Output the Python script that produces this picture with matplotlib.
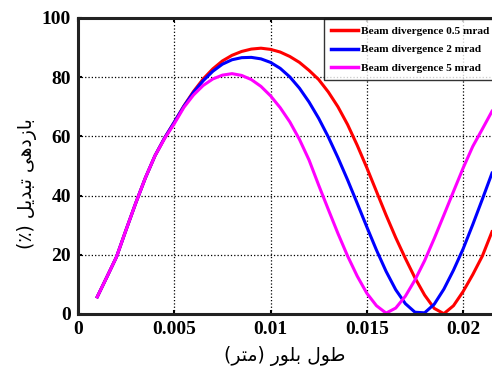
import matplotlib
matplotlib.use("Agg")
import matplotlib.pyplot as plt

# crystal length (m), sampled every 0.0005 from 0.001 to 0.0215
length = [0.0010, 0.0015, 0.0020, 0.0025, 0.0030, 0.0035, 0.0040, 0.0045,
          0.0050, 0.0055, 0.0060, 0.0065, 0.0070, 0.0075, 0.0080, 0.0085,
          0.0090, 0.0095, 0.0100, 0.0105, 0.0110, 0.0115, 0.0120, 0.0125,
          0.0130, 0.0135, 0.0140, 0.0145, 0.0150, 0.0155, 0.0160, 0.0165,
          0.0170, 0.0175, 0.0180, 0.0185, 0.0190, 0.0195, 0.0200, 0.0205,
          0.0210, 0.0215]

# conversion efficiency (%)
eff_05 = [5.8, 12.5, 19.3, 28.5, 37.5, 46.0, 53.5, 59.5,
          64.8, 70.3, 75.2, 79.4, 82.8, 85.5, 87.4, 88.7,
          89.5, 89.8, 89.4, 88.5, 87.0, 85.0, 82.3, 79.2,
          75.0, 70.0, 64.0, 57.0, 49.4, 41.4, 33.4, 25.8,
          18.8, 12.2, 6.4, 1.9, 0.1, 2.8, 7.6, 13.3,
          19.6, 27.8]
eff_2 = [5.8, 12.5, 19.3, 28.5, 37.5, 46.0, 53.5, 59.5,
         64.8, 70.2, 74.9, 78.8, 82.0, 84.4, 85.9, 86.6,
         86.7, 86.2, 85.0, 83.0, 80.1, 76.3, 71.6, 66.1,
         59.8, 52.8, 45.3, 37.4, 29.4, 21.6, 14.4, 8.2,
         3.5, 0.6, 0.4, 3.3, 8.4, 14.8, 22.0, 30.2,
         38.8, 47.6]
eff_5 = [5.8, 12.5, 19.3, 28.5, 37.5, 46.0, 53.5, 59.3,
         64.3, 69.8, 74.0, 77.2, 79.4, 80.7, 81.2, 80.6,
         79.2, 76.9, 73.7, 69.7, 64.9, 59.0, 52.0, 43.5,
         35.3, 27.2, 19.6, 12.8, 7.0, 2.8, 0.3, 2.0,
         6.0, 11.5, 18.0, 25.5, 33.4, 41.4, 49.3, 56.6,
         62.5, 68.5]

labels = ["Beam divergence 0.5 mrad", "Beam divergence 2 mrad", "Beam divergence 5 mrad"]
colors = ["#ff0000", "#0000ff", "#ff00ff"]

xticks = [0, 0.005, 0.01, 0.015, 0.02]
xticklabels = ["0", "0.005", "0.01", "0.015", "0.02"]
yticks = [0, 20, 40, 60, 80, 100]

# Persian labels, written in visual order with presentation forms
xlabel = "(\uFEAE\uFE98\uFEE3) \uFEAD\uFEEE\uFEE0\uFE91 \uFEDD\uFEEE\uFEC3"
ylabel = "(\u066A) \uFEDE\uFEF3\uFEAA\uFE92\uFE97 \uFEF0\uFEEB\uFEA9\uFEAF\uFE8E\uFE91"

fig = plt.figure(figsize=(4.92, 3.71), dpi=100)
ax = fig.add_axes([78 / 492, 57 / 371, 414 / 492, 296 / 371])

for ys, lab, col in zip([eff_05, eff_2, eff_5], labels, colors):
    ax.plot(length, ys, color=col, linewidth=2.2, label=lab)

ax.set_xlim(0, 0.0215)
ax.set_ylim(0, 100)
ax.set_xticks(xticks)
ax.set_xticklabels(xticklabels)
ax.set_yticks(yticks)
ax.grid(True, linestyle=":", color="black", linewidth=0.9)

for side in ["left", "bottom", "top"]:
    ax.spines[side].set_linewidth(2.2)
    ax.spines[side].set_color("#222222")
ax.spines["right"].set_visible(False)

ax.tick_params(direction="in", length=3, width=1.5, top=True, pad=5)
for t in ax.get_xticklabels() + ax.get_yticklabels():
    t.set_fontfamily("Liberation Serif")
    t.set_fontweight("bold")
    t.set_fontsize(14)

ax.set_xlabel(xlabel, fontfamily="DejaVu Sans", fontsize=13.5, labelpad=6)
ax.set_ylabel(ylabel, fontfamily="DejaVu Sans", fontsize=13.5)
ax.yaxis.set_label_coords(-0.10, 0.44)

leg = ax.legend(loc="upper left", bbox_to_anchor=(0.594, 0.996),
                prop={"family": "Liberation Serif", "weight": "bold", "size": 8.1},
                frameon=True, fancybox=False, edgecolor="black",
                handlelength=2.4, handletextpad=0.3, labelspacing=0.78,
                borderpad=0.6, borderaxespad=0)
leg.get_frame().set_linewidth(1.0)
for line in leg.get_lines():
    line.set_linewidth(2.5)

fig.savefig("out.png", dpi=100)
